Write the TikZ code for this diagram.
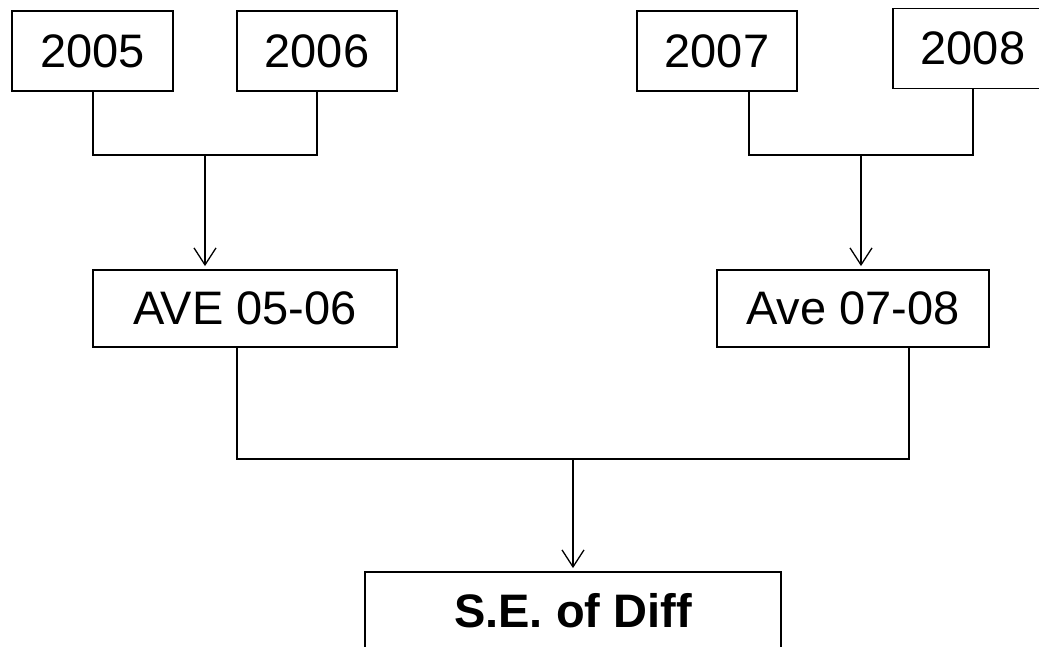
\documentclass[tikz,border=0pt]{standalone}
\usepackage{fontspec}
\setmainfont{Liberation Sans}
\usetikzlibrary{arrows.meta}
\begin{document}
\begin{tikzpicture}[x=1pt,y=-1pt,
  box/.style={draw,line width=1.8pt,rectangle,inner sep=0pt,minimum height=80pt,font=\fontsize{47}{50}\selectfont},
  link/.style={line width=1.3pt},
  arr/.style={line width=1.3pt,-{Straight Barb[length=17pt,width=22pt,line width=1.3pt]},shorten >=3pt}]
\clip (0,0) rectangle (1039,647);
\fill[white] (0,0) rectangle (1039,647);
\node[box,minimum width=161pt] (y2005) at (92.5,51) {2005};
\node[box,minimum width=160pt] (y2006) at (317,51) {2006};
\node[box,minimum width=160pt] (y2007) at (717,51) {2007};
\node[box,minimum width=160pt] (y2008) at (973,48.5) {2008};
\node[box,minimum width=304pt,minimum height=77pt] (ave1) at (245,308.5) {AVE 05-06};
\node[box,minimum width=272pt,minimum height=77pt] (ave2) at (853,308.5) {Ave 07-08};
\node[box,minimum width=416pt,minimum height=77pt,font=\fontsize{47}{50}\selectfont\bfseries] (se) at (573,610.5) {S.E. of Diff};
\coordinate (j1) at (205,155);
\coordinate (c5) at (93,91);
\coordinate (c7) at (749,91);
\coordinate (j2) at (861,155);
\coordinate (a1) at (237,347);
\coordinate (a2) at (909,347);
\coordinate (j3) at (573,459);
\draw[link] (c5) |- (j1) -| (y2006.south);
\draw[arr] (j1) -- (j1 |- ave1.north);
\draw[link] (c7) |- (j2) -| (y2008.south);
\draw[arr] (j2) -- (j2 |- ave2.north);
\draw[link] (a1) |- (j3) -| (a2);
\draw[arr] (j3) -- (se.north);
\end{tikzpicture}
\end{document}
